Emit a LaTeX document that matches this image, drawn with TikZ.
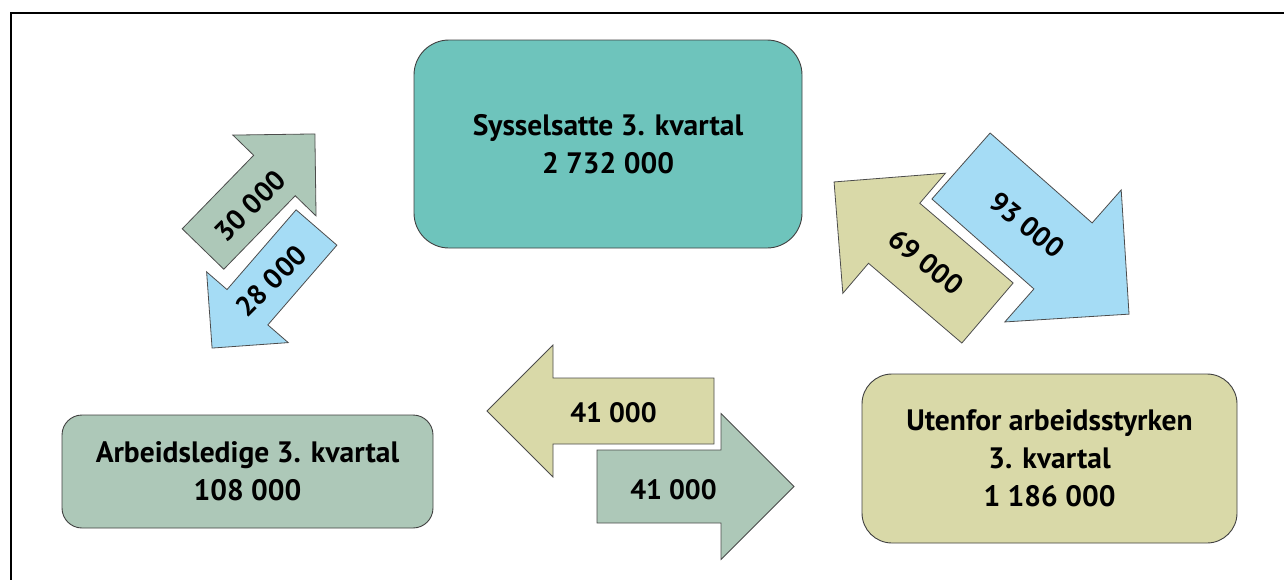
\documentclass[tikz,border=0pt]{standalone}
\usepackage{fontspec}
\setmainfont{PT Sans}
\definecolor{boxteal}{RGB}{110,196,188}
\definecolor{flowsage}{RGB}{173,200,184}
\definecolor{flowkhaki}{RGB}{217,217,168}
\definecolor{flowblue}{RGB}{165,220,245}
% block arrow: tail, angle, length, shaft width, fill
\newcommand{\flowarrow}[5]{%
  \begin{scope}[shift={#1}, rotate=#2]
    \filldraw[flow, fill=#5] (0,{-#4/2}) -- ({#3-#4},{-#4/2}) -- ({#3-#4},{-#4})
      -- (#3,0) -- ({#3-#4},#4) -- ({#3-#4},{#4/2}) -- (0,{#4/2}) -- cycle;
  \end{scope}}

\begin{document}
\begin{tikzpicture}[x=1pt, y=-1pt,
	box/.style={draw=black!75, line width=0.9pt, align=center, inner sep=0pt,
	font=\fontsize{29.5}{38}\selectfont\bfseries},
	flow/.style={draw=black!70, line width=0.8pt},
	lbl/.style={font=\fontsize{28}{34}\selectfont\bfseries, inner sep=0pt}]
\useasboundingbox (0,0) rectangle (1284,579);
\draw[line width=2.5pt] (11,620) -- (11,13) -- (1300,13);
\node[box, fill=boxteal, minimum width=388pt, minimum height=208pt, rounded corners=35pt] (syss) at (608,144) {Sysselsatte 3. kvartal\\2 732 000};
\node[box, fill=flowsage, minimum width=371pt, minimum height=113pt, rounded corners=20pt] (ledig) at (247.5,471.5) {Arbeidsledige 3. kvartal\\108 000};
\node[box, fill=flowkhaki, minimum width=375pt, minimum height=169pt, rounded corners=30pt] (uten) at (1049.5,458.5) {Utenfor arbeidsstyrken\\3. kvartal\\1 186 000};
% flows between the groups
\flowarrow{(203,249)}{45.8}{160.5}{58}{flowsage}
\flowarrow{(316.5,227.5)}{-130.9}{159.5}{54}{flowblue}
\flowarrow{(987.5,313)}{139.5}{201.8}{79}{flowkhaki}
\flowarrow{(961,166)}{-41.4}{224}{88}{flowblue}
\flowarrow{(714,411)}{180}{227}{66}{flowkhaki}
\flowarrow{(597,486.5)}{0}{197}{73}{flowsage}
\node[lbl, rotate=45] (f30) at (250,206) {30 000};
\node[lbl, rotate=45] (f28) at (271,281) {28 000};
\node[lbl, rotate=-39] (f69) at (926,262) {69 000};
\node[lbl, rotate=-39] (f93) at (1027,225) {93 000};
\node[lbl] (f41a) at (613.5,413) {41 000};
\node[lbl] (f41b) at (673.5,490) {41 000};
\end{tikzpicture}
\end{document}
